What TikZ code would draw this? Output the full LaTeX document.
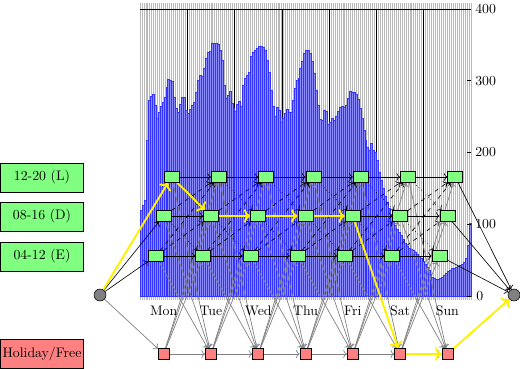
\documentclass[tikz,border=0pt]{standalone}
\usetikzlibrary{arrows.meta}
\pgfdeclarelayer{bg}
\pgfdeclarelayer{edges}
\pgfsetlayers{bg,edges,main}
\begin{document}
\begin{tikzpicture}[x=0.725pt,y=-0.725pt,
  work/.style={draw=black, fill=green!50, minimum width=10.9pt, minimum height=8pt, inner sep=0pt},
  hol/.style={draw=black, fill=red!50, minimum width=8pt, minimum height=8pt, inner sep=0pt},
  term/.style={circle, draw=black, fill=gray, minimum size=8.7pt, inner sep=0pt},
  legend/.style={draw=black, minimum width=60pt, minimum height=21pt, inner sep=0pt},
  blk/.style={draw=black, line width=0.45pt, ->},
  gry/.style={draw=gray, line width=0.5pt, ->},
  hl/.style={draw=yellow, line width=1.4pt, ->},
  bar/.style={fill=blue!45!white, draw=blue!80!white, line width=0.15pt},
  grid/.style={draw=gray!55, line width=0.6pt},
  dayline/.style={draw=black, line width=0.5pt},
  lbl/.style={inner sep=0pt, font=\normalsize}
]
\useasboundingbox (0,0) rectangle (520,368);

% ---------- background chart ----------
\begin{pgfonlayer}{bg}
  \foreach \i in {0,...,168}
    \draw[grid] (140+\i*1.9702,3) -- (140+\i*1.9702,300);
  \foreach \d in {1,...,6}
    \draw[dayline] (140+\d*47.2857,9) -- (140+\d*47.2857,296);
  \draw[dayline] (140,9) -- (471,9);
  \foreach \v [count=\i from 0] in {
    210,205,200,140,100,96,94,105,118,112,106,102,97,87,79,80,81,97,108,112,104,97,97,110,
    113,109,105,102,92,80,75,76,68,58,52,51,43,43,43,44,50,60,85,98,95,91,103,108,
    111,104,101,106,85,78,75,72,56,52,50,48,46,46,47,50,60,72,90,106,116,107,110,122,
    118,113,109,112,112,100,88,80,78,68,61,53,50,50,53,61,73,90,105,119,120,110,111,124,
    122,118,120,116,111,107,106,107,105,98,91,92,92,94,99,108,118,130,140,147,150,143,150,152,
    160,172,180,188,196,202,208,214,220,225,229,232,235,239,243,246,248,249,250,252,254,256,258,261,
    264,267,270,274,277,278,279,279,278,277,275,273,271,270,268,268,267,266,265,264,262,258,245,223}
    \draw[bar] (140+\i*1.9702,296) rectangle (140+\i*1.9702+1.9702,\v);
  \foreach \v in {0,100,200,300,400}
    \draw[black, line width=0.4pt] (467,296-\v*0.7175) -- (471,296-\v*0.7175);
\end{pgfonlayer}

% axis labels
\node[lbl, anchor=west] (a400) at (475,9) {400};
\node[lbl, anchor=west] (a300) at (475,80.8) {300};
\node[lbl, anchor=west] (a200) at (475,152.5) {200};
\node[lbl, anchor=west] (a100) at (475,224.3) {100};
\node[lbl, anchor=west] (a0) at (476,296) {0};

% day labels
\foreach \n [count=\d from 0] in {Mon,Tue,Wed,Thu,Fri,Sat,Sun}
  \node[lbl] (day\d) at (140+\d*47.2857+23.64,311) {\n};

% legend
\node[legend, fill=green!50] (legL) at (42,177.5) {12-20 (L)};
\node[legend, fill=green!50] (legD) at (42,216.5) {08-16 (D)};
\node[legend, fill=green!50] (legE) at (42,256.5) {04-12 (E)};
\node[legend, fill=red!50] (legH) at (42,354) {Holiday/Free};

% network nodes
\node[term] (src) at (100,295) {};
\node[term] (snk) at (514,295) {};
\foreach \d in {0,...,6} {
  \node[work] (E\d) at (140+\d*47.2857+15.76,256) {};
  \node[work] (D\d) at (140+\d*47.2857+23.64,216) {};
  \node[work] (L\d) at (140+\d*47.2857+31.52,177) {};
  \node[hol]  (H\d) at (140+\d*47.2857+23.64,354) {};
}

% edges
\begin{pgfonlayer}{edges}
  \foreach \d [evaluate=\d as \nx using int(\d+1)] in {0,...,5} {
    \draw[gry] (E\d) -- (H\nx);
    \draw[gry] (D\d) -- (H\nx);
    \draw[gry] (L\d) -- (H\nx);
    \draw[gry] (H\d) -- (E\nx);
    \draw[gry] (H\d) -- (D\nx);
    \draw[gry] (H\d) -- (L\nx);
    \draw[gry] (H\d) -- (H\nx);
  }
  \foreach \d [evaluate=\d as \nx using int(\d+1)] in {0,...,5} {
    \draw[blk] (E\d) -- (E\nx);
    \draw[blk] (D\d) -- (D\nx);
    \draw[blk] (L\d) -- (L\nx);
    \draw[blk, dashed] (E\d) -- (D\nx);
    \draw[blk, dashed] (E\d) -- (L\nx);
    \draw[blk, dashed] (D\d) -- (L\nx);
    \draw[blk, dotted] (L\d) -- (D\nx);
    \draw[blk, dotted] (D\d) -- (E\nx);
  }
  \draw[blk] (src) -- (E0);
  \draw[blk] (src) -- (D0);
  \draw[gry] (src) -- (H0);
  \draw[blk] (E6) -- (snk);
  \draw[blk] (D6) -- (snk);
  \draw[blk] (L6) -- (snk);
  % highlighted path
  \draw[hl] (src) -- (L0);
  \draw[hl] (L0) -- (D1);
  \draw[hl] (D1) -- (D2);
  \draw[hl] (D2) -- (D3);
  \draw[hl] (D3) -- (D4);
  \draw[hl] (D4) -- (H5);
  \draw[hl] (H5) -- (H6);
  \draw[hl] (H6) -- (snk);
\end{pgfonlayer}
\end{tikzpicture}
\end{document}
